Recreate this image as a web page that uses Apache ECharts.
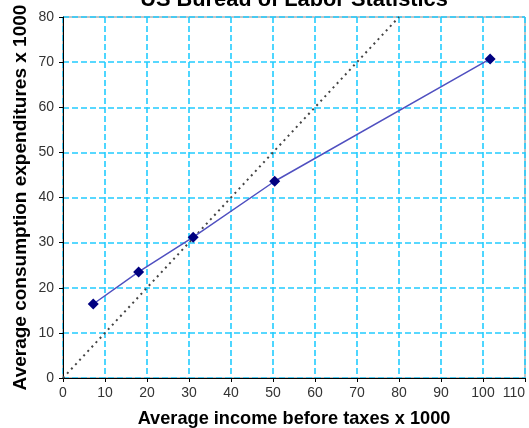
<!DOCTYPE html>
<html><head><meta charset="utf-8">
<script src="https://cdn.jsdelivr.net/npm/echarts@6/dist/echarts.min.js"></script>
<style>html,body{margin:0;padding:0;background:#fff}#c{width:529px;height:428px}</style>
</head><body><div id="c"></div>
<script>
const titleText = 'US Bureau of Labor Statistics';
const xName = 'Average income before taxes x 1000';
const yName = 'Average consumption expenditures x 1000';
const incomeX = [7.2, 18.0, 31.0, 50.4, 101.7];
const spendingY = [16.4, 23.5, 31.2, 43.6, 70.7];
const refX = [0, 80];
const refY = [0, 80];

const gridLine = { show: true, lineStyle: { color: '#22ccff', type: [6, 3], width: 1.6 } };
const chart = echarts.init(document.getElementById('c'));
chart.setOption({
  animation: false,
  backgroundColor: '#fff',
  title: { text: titleText, left: 289, textAlign: 'center', top: -16,
    textStyle: { fontFamily: 'Liberation Sans', fontWeight: 'bold', fontSize: 21.8, color: '#000' } },
  grid: { left: 63, right: 4, top: 17, bottom: 50, show: true, borderColor: '#888', borderWidth: 1,
    outerBoundsMode: 'none', containLabel: false },
  xAxis: { type: 'value', min: 0, max: 110, interval: 10,
    name: xName, nameLocation: 'middle', nameGap: 32, nameMoveOverlap: false,
    nameTextStyle: { fontFamily: 'Liberation Sans', fontWeight: 'bold', fontSize: 18.2, color: '#000' },
    axisLine: { show: true, onZero: false, lineStyle: { color: '#000', width: 1 } },
    axisTick: { show: true, length: 4, lineStyle: { color: '#000' } },
    axisLabel: { fontFamily: 'Liberation Sans', fontSize: 14, color: '#333', margin: 8, alignMaxLabel: 'right' },
    splitLine: gridLine },
  yAxis: { type: 'value', min: 0, max: 80, interval: 10,
    name: yName, nameLocation: 'middle', nameGap: 33, nameMoveOverlap: false,
    nameTextStyle: { fontFamily: 'Liberation Sans', fontWeight: 'bold', fontSize: 19, color: '#000' },
    axisLine: { show: true, onZero: false, lineStyle: { color: '#000', width: 1 } },
    axisTick: { show: true, length: 4, lineStyle: { color: '#000' } },
    axisLabel: { fontFamily: 'Liberation Sans', fontSize: 14, color: '#333', margin: 9 },
    splitLine: gridLine },
  series: [
    { type: 'line', data: refX.map((x, i) => [x, refY[i]]), symbol: 'none',
      lineStyle: { color: '#444', width: 2, type: [2, 4] }, z: 2 },
    { type: 'line', data: incomeX.map((x, i) => [x, spendingY[i]]), symbol: 'diamond', symbolSize: 11,
      lineStyle: { color: '#5050c0', width: 1.5 }, itemStyle: { color: '#000080' }, z: 3 }
  ]
});
</script></body></html>
